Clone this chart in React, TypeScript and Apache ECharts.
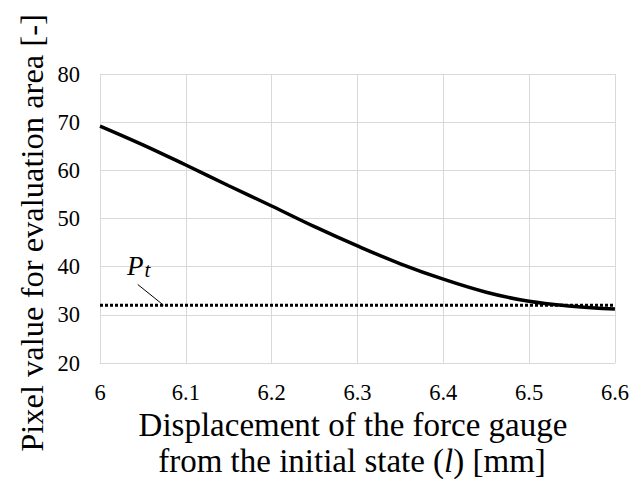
import React, { useEffect, useRef } from "react";
import * as echarts from "echarts";

const xValues = [6.0, 6.05, 6.1, 6.15, 6.2, 6.25, 6.3, 6.35, 6.4, 6.45, 6.5, 6.55, 6.6];
const pixelValues = [69.2, 65.3, 61.1, 56.8, 52.6, 48.3, 44.3, 40.6, 37.4, 34.7, 32.8, 31.8, 31.2];
const thresholdX = [6.0, 6.6];
const thresholdValue = 32.0;
const yTitle = "Pixel value for evaluation area [-]";
const xTitle1 = "Displacement of the force gauge";
const FONT = "Liberation Serif";

export default function App() {
  const ref = useRef<HTMLDivElement>(null);
  useEffect(() => {
    document.body.style.margin = "0";
    if (!ref.current) return;
    const chart = echarts.init(ref.current, undefined, { renderer: "svg" });
    const grid = "#d9d9d9";
    const tickRich = { a: { fontFamily: FONT, fontSize: 22.5, fill: "#000", color: "#000" } };
    chart.setOption({
      animation: false,
      backgroundColor: "#ffffff",
      textStyle: { fontFamily: FONT, color: "#000" },
      grid: { left: 100, right: 17, top: 74, bottom: 116 },
      xAxis: {
        type: "value",
        min: 6.0,
        max: 6.6,
        interval: 0.1,
        axisLine: { show: true, lineStyle: { color: grid, width: 1 } },
        axisTick: { show: false },
        splitLine: { show: true, lineStyle: { color: grid, width: 1 } },
        axisLabel: {
          color: "#000",
          fontFamily: FONT,
          fontSize: 22.5,
          margin: 18,
          formatter: (v: number) => "{a|" + String(Math.round(v * 10) / 10) + "}",
          rich: tickRich,
        },
      },
      yAxis: {
        type: "value",
        min: 20,
        max: 80,
        interval: 10,
        axisLine: { show: true, lineStyle: { color: grid, width: 1 } },
        axisTick: { show: false },
        splitLine: { show: true, lineStyle: { color: grid, width: 1 } },
        axisLabel: {
          color: "#000",
          fontFamily: FONT,
          fontSize: 22.5,
          margin: 20,
          formatter: (v: number) => "{a|" + v + "}",
          rich: tickRich,
        },
      },
      series: [
        {
          type: "line",
          data: xValues.map((x, i) => [x, pixelValues[i]]),
          smooth: 0.4,
          showSymbol: false,
          lineStyle: { color: "#000", width: 3.5 },
          z: 3,
        },
        {
          type: "line",
          data: thresholdX.map((x) => [x, thresholdValue]),
          showSymbol: false,
          lineStyle: { color: "#000", width: 3, type: [3, 2] },
          z: 2,
        },
      ],
    });
    const p1 = chart.convertToPixel({ gridIndex: 0 }, [6.044, 36.3]);
    const p2 = chart.convertToPixel({ gridIndex: 0 }, [6.074, thresholdValue]);
    const pl = chart.convertToPixel({ gridIndex: 0 }, [6.0315, 37.2]);
    chart.setOption({
      graphic: [
        {
          type: "line",
          shape: { x1: p1[0], y1: p1[1], x2: p2[0], y2: p2[1] },
          style: { stroke: "#000", lineWidth: 1 },
        },
        {
          type: "text",
          x: pl[0],
          y: pl[1],
          style: {
            text: "{p|P}{t|t}",
            textVerticalAlign: "bottom",
            rich: {
              p: { fontFamily: FONT, fontStyle: "italic", fontSize: 27, fill: "#000" },
              t: { fontFamily: FONT, fontStyle: "italic", fontSize: 21, fill: "#000", padding: [8, 0, 0, 1] },
            },
          },
        },
        {
          type: "text",
          x: 32,
          y: 233,
          rotation: Math.PI / 2,
          style: {
            text: yTitle,
            font: "32.5px Liberation Serif",
            fill: "#000",
            textAlign: "center",
            textVerticalAlign: "middle",
          },
        },
        {
          type: "text",
          x: 353,
          y: 425,
          style: {
            text: "{n|" + xTitle1 + "}",
            textAlign: "center",
            textVerticalAlign: "middle",
            rich: { n: { fontFamily: FONT, fontSize: 33, fill: "#000" } },
          },
        },
        {
          type: "text",
          x: 352,
          y: 461,
          style: {
            text: "{n|from the initial state (}{i|l}{n|) [mm]}",
            textAlign: "center",
            textVerticalAlign: "middle",
            rich: {
              n: { fontFamily: FONT, fontSize: 33, fill: "#000" },
              i: { fontFamily: FONT, fontStyle: "italic", fontSize: 33, fill: "#000" },
            },
          },
        },
      ],
    });
    return () => chart.dispose();
  }, []);
  return <div ref={ref} style={{ width: 632, height: 479, position: "fixed", left: 0, top: 0 }} />;
}
